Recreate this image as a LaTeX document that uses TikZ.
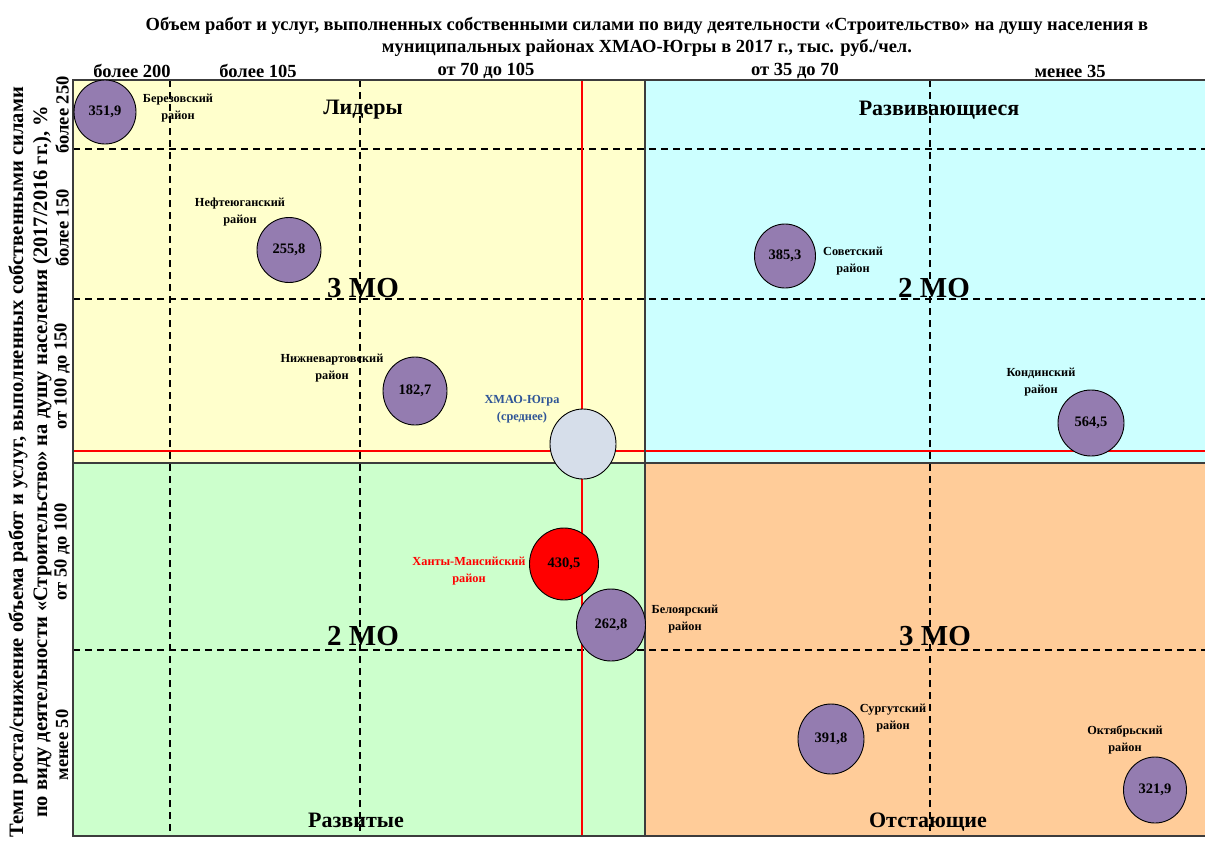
\documentclass[tikz,border=0pt]{standalone}
\usepackage{fontspec}
\setmainfont{Liberation Serif}
\usetikzlibrary{shapes.geometric}
\definecolor{qyel}{RGB}{255,255,204}
\definecolor{qcyan}{RGB}{204,255,255}
\definecolor{qgreen}{RGB}{204,255,204}
\definecolor{qpeach}{RGB}{255,204,153}
\definecolor{bubcol}{RGB}{148,124,176}
\definecolor{avgcol}{RGB}{214,222,234}
\definecolor{avgtxt}{RGB}{47,85,151}
\definecolor{framecol}{RGB}{60,60,60}
\begin{document}
\begin{tikzpicture}[x=1pt,y=-1pt,
  bub/.style={ellipse,draw=black,line width=0.9pt,fill=bubcol,inner sep=0pt,
     font=\bfseries\fontsize{14.5}{16}\selectfont},
  lbl/.style={align=center,inner sep=0pt,font=\bfseries\fontsize{12.3}{17}\selectfont},
  quad/.style={inner sep=0pt,font=\bfseries\fontsize{22}{24}\selectfont},
  mo/.style={inner sep=0pt,font=\bfseries\fontsize{29}{30}\selectfont},
  tick/.style={inner sep=0pt,font=\bfseries\fontsize{18.5}{20}\selectfont},
  grid/.style={dash pattern=on 7pt off 5pt,line width=1.1pt,black},
  redln/.style={red,line width=2pt},
  frm/.style={framecol,line width=1.6pt}]
\useasboundingbox (0,0) rectangle (1205,847);
% quadrants
\fill[qyel] (73,80) rectangle (645,463);
\fill[qcyan] (645,80) rectangle (1205,463);
\fill[qgreen] (73,463) rectangle (645,836);
\fill[qpeach] (645,463) rectangle (1205,836);
% dashed grid
\draw[grid] (73,149) -- (1205,149);
\draw[grid] (73,299) -- (1205,299);
\draw[grid] (73,650) -- (1205,650);
\draw[grid] (170,80) -- (170,836);
\draw[grid] (360,80) -- (360,836);
\draw[grid] (930,80) -- (930,836);
% red average lines
\draw[redln] (582,80) -- (582,836);
\draw[redln] (73,451) -- (1205,451);
% frame
\draw[frm] (1210,80) -- (73,80) -- (73,836) -- (1210,836);
\draw[frm] (645,80) -- (645,836);
\draw[frm] (73,463) -- (1205,463);
% title
\node[inner sep=0pt,align=center,font=\bfseries\fontsize{18.5}{22}\selectfont] (title) at (647,37)
 {Объем работ и услуг, выполненных собственными силами по виду деятельности «Строительство» на душу населения в\\
  муниципальных районах ХМАО-Югры в 2017 г., тыс. руб./чел.};
% top ticks
\node[tick] (tx1) at (132,71) {более 200};
\node[tick] (tx2) at (258,71) {более 105};
\node[tick] (tx3) at (486,71) {от 70 до 105};
\node[tick] (tx4) at (795,71) {от 35 до 70};
\node[tick] (tx5) at (1070,71) {менее 35};
% left ticks
\node[tick,rotate=90] (ty1) at (62,115) {более 250};
\node[tick,rotate=90] (ty2) at (62,228) {более 150};
\node[tick,rotate=90] (ty3) at (62,376) {от 100 до 150};
\node[tick,rotate=90] (ty4) at (62,552) {от 50 до 100};
\node[tick,rotate=90] (ty5) at (62,745) {менее 50};
% y axis title
\node[rotate=90,inner sep=0pt,align=center,font=\bfseries\fontsize{20.5}{24}\selectfont] (ytitle) at (30,462)
 {Темп роста/снижение объема работ и услуг, выполненных собственными силами\\
  по виду деятельности «Строительство» на душу населения (2017/2016 гг.), \%};
% quadrant names
\node[quad] (q1) at (363,110) {Лидеры};
\node[quad] (q2) at (939,110) {Развивающиеся};
\node[quad] (q3) at (356,820) {Развитые};
\node[quad] (q4) at (928,822) {Отстающие};
\node[mo] (mo1) at (363,288) {3 МО};
\node[mo] (mo2) at (934,288) {2 МО};
\node[mo] (mo3) at (363,636) {2 МО};
\node[mo] (mo4) at (935,636) {3 МО};
% bubbles
\node[bub,minimum width=62pt,minimum height=64pt] (b1) at (105,112) {351,9};
\node[bub,minimum width=64pt,minimum height=65pt] (b2) at (289,250) {255,8};
\node[bub,minimum width=64pt,minimum height=68pt] (b3) at (415,391) {182,7};
\node[bub,fill=avgcol,minimum width=66pt,minimum height=70pt] (avg) at (583,444) {};
\node[bub,fill=red,minimum width=69pt,minimum height=72pt] (b4) at (564,564) {430,5};
\node[bub,minimum width=69pt,minimum height=72pt] (b5) at (611,625) {262,8};
\node[bub,minimum width=61pt,minimum height=64pt] (b6) at (785,256) {385,3};
\node[bub,minimum width=66pt,minimum height=66pt] (b7) at (1091,423) {564,5};
\node[bub,minimum width=66pt,minimum height=70pt] (b8) at (831,739) {391,8};
\node[bub,minimum width=63pt,minimum height=66pt] (b9) at (1155,790) {321,9};
% labels
\node[lbl] (l1) at (178,108) {Березовский\\район};
\node[lbl] (l2) at (240,212) {Нефтеюганский\\район};
\node[lbl] (l3) at (332,368) {Нижневартовский\\район};
\node[lbl,text=avgtxt] (l4) at (522,409) {ХМАО-Югра\\(среднее)};
\node[lbl,text=red] (l5) at (469,571) {Ханты-Мансийский\\район};
\node[lbl] (l6) at (685,619) {Белоярский\\район};
\node[lbl] (l7) at (853,261) {Советский\\район};
\node[lbl] (l8) at (1041,382) {Кондинский\\район};
\node[lbl] (l9) at (893,718) {Сургутский\\район};
\node[lbl] (l10) at (1125,740) {Октябрьский\\район};
\end{tikzpicture}
\end{document}
